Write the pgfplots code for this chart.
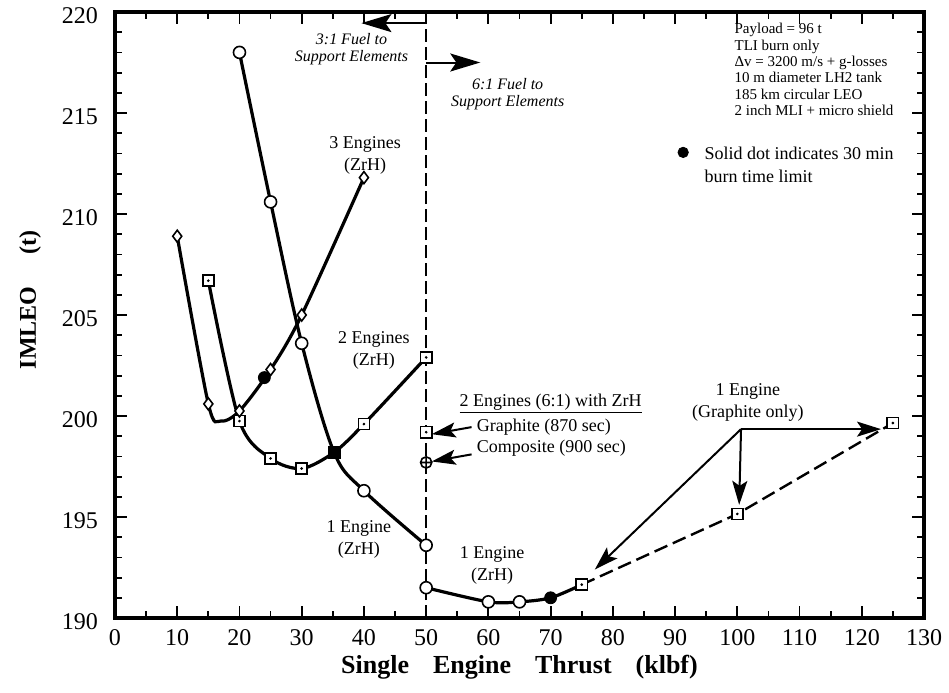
\documentclass[border=0pt]{standalone}
\usepackage{pgfplots}
\pgfplotsset{compat=1.18}
\usepackage{fontspec}
\setmainfont{Liberation Serif}
\usetikzlibrary{arrows.meta}
\tikzset{
  bigarrow/.style={black, line width=1pt, arrows={-Stealth[length=15pt, width=9pt, inset=3pt]}},
  medarrow/.style={black, line width=1pt, arrows={-Stealth[length=12pt, width=7.5pt, inset=2.5pt]}},
}

\begin{document}
\begin{tikzpicture}
\useasboundingbox (-57.5pt,-37pt) rectangle (417pt,309pt);
\begin{axis}[
  at={(0,0)}, anchor=south west,
  scale only axis, width=404.5pt, height=303pt,
  xmin=0, xmax=130, ymin=190, ymax=220,
  xtick={0,10,...,130}, ytick={190,195,...,220},
  minor x tick num=1, minor y tick num=4,
  tick align=inside, major tick length=6pt, minor tick length=3.5pt,
  every tick/.style={black, line width=0.9pt},
  axis line style={line width=1.6pt},
  ticklabel style={font=\fontsize{12}{14}\selectfont},
  /pgf/number format/assume math mode=true,
  xticklabel style={yshift=-2pt},
  yticklabel style={xshift=-5pt, yshift=-2pt},
  xlabel={Single\hspace{12pt}Engine\hspace{12pt}Thrust\hspace{12pt}(klbf)},
  xlabel style={font=\fontsize{13}{15}\selectfont\bfseries, at={(axis description cs:0.5,-0.081)}, anchor=center},
  ylabel={IMLEO\hspace{16pt}(t)},
  ylabel style={font=\fontsize{12}{14}\selectfont\bfseries, at={(axis description cs:-0.105,0.525)}, anchor=center},
  clip=false,
]
% dashed boundary 3:1 / 6:1
\addplot[black, line width=0.85pt, dash pattern=on 6.5pt off 2.5pt] coordinates {(50,190) (50,219.45)};

% 1 Engine (ZrH), 3:1
\addplot[black, line width=1.6pt, smooth, tension=0.55] coordinates {(20,218.0) (25,210.6) (30,203.6) (35.2,198.2) (40,196.3) (50,193.6)};
% 2 Engines (ZrH)
\addplot[black, line width=1.6pt, smooth, tension=0.5] coordinates {(15,206.7) (20,199.75) (25,197.9) (30,197.4) (35.2,198.2) (40,199.6) (50,202.9)};
% 3 Engines (ZrH)
\addplot[black, line width=1.6pt, smooth, tension=0.5] coordinates {(10,208.9) (15,200.6) (17,199.75) (20,200.25) (25,202.3) (30,205.0) (40,211.8)};
% 1 Engine (ZrH), 6:1
\addplot[black, line width=1.6pt, smooth, tension=0.5] coordinates {(50,191.5) (60,190.8) (65,190.8) (70,191.0) (75,191.65)};
% 1 Engine graphite only (dashed)
\addplot[black, line width=1.2pt, dash pattern=on 7pt off 3pt] coordinates {(75,191.65) (100,195.15) (125,199.65)};

% circle marks
\addplot[only marks, mark=*, mark size=3pt, mark options={fill=white, draw=black, line width=0.8pt}] coordinates {(20,218.0) (25,210.6) (30,203.6) (40,196.3) (50,193.6) (50,191.5) (60,190.8) (65,190.8)};
% square marks
\addplot[only marks, mark=square*, mark size=2.8pt, mark options={fill=white, draw=black, line width=0.8pt}] coordinates {(15,206.7) (20,199.75) (25,197.9) (30,197.4) (40,199.6) (50,202.9) (50,199.2) (75,191.65) (100,195.15) (125,199.65)};
\addplot[only marks, mark=*, mark size=0.45pt, black] coordinates {(15,206.7) (20,199.75) (25,197.9) (30,197.4) (40,199.6) (50,202.9) (50,199.2) (75,191.65) (100,195.15) (125,199.65)};
% diamond marks
\addplot[only marks, mark=diamond*, mark size=3pt, mark options={fill=white, draw=black, line width=0.8pt}] coordinates {(10,208.9) (15,200.6) (20,200.25) (25,202.3) (30,205.0) (40,211.8)};
% composite
\addplot[only marks, mark=oplus*, mark size=2.8pt, mark options={fill=white, draw=black, line width=0.8pt}] coordinates {(50,197.7)};
% solid = 30 min burn limit
\addplot[only marks, mark=*, mark size=3pt, black] coordinates {(24,201.9) (70,191.0)};
\addplot[only marks, mark=square*, mark size=3pt, black] coordinates {(35.2,198.2)};
% legend dot
\addplot[only marks, mark=*, mark size=2.6pt, black] coordinates {(91.3,213.05)};

% arrows
\draw[bigarrow] (axis cs:50,219.45) -- (axis cs:39.6,219.45);
\draw[bigarrow] (axis cs:50,217.5) -- (axis cs:58.7,217.5);
\draw[medarrow] (axis cs:57.3,199.45) -- (axis cs:50.9,199.1);
\draw[medarrow] (axis cs:57.3,198.1) -- (axis cs:50.9,197.75);
\draw[medarrow] (axis cs:100.6,199.35) -- (axis cs:123.1,199.35);
\draw[medarrow] (axis cs:100.6,199.35) -- (axis cs:100.3,195.6);
\draw[medarrow] (axis cs:100.6,199.35) -- (axis cs:77.1,192.4);

% text
\node[align=center, font=\fontsize{8}{8.6}\selectfont\itshape] at (axis cs:38,218.15) {3:1 Fuel to\\Support Elements};
\node[align=center, font=\fontsize{8}{8.6}\selectfont\itshape] at (axis cs:63.1,215.95) {6:1 Fuel to\\Support Elements};
\node[align=center, font=\fontsize{9}{11}\selectfont] at (axis cs:40.2,212.9) {3 Engines\\(ZrH)};
\node[align=center, font=\fontsize{9}{11}\selectfont] at (axis cs:41.6,203.25) {2 Engines\\(ZrH)};
\node[align=center, font=\fontsize{9}{11}\selectfont] at (axis cs:39.2,193.9) {1 Engine\\(ZrH)};
\node[align=center, font=\fontsize{9}{11}\selectfont] at (axis cs:60.6,192.6) {1 Engine\\(ZrH)};
\node[anchor=west, inner sep=0pt, font=\fontsize{9}{11}\selectfont] at (axis cs:55.3,200.6) {\underline{2 Engines (6:1) with ZrH}};
\node[anchor=west, inner sep=0pt, font=\fontsize{9}{11}\selectfont] at (axis cs:58.1,199.45) {Graphite (870 sec)};
\node[anchor=west, inner sep=0pt, font=\fontsize{9}{11}\selectfont] at (axis cs:58.1,198.4) {Composite (900 sec)};
\node[align=center, font=\fontsize{9}{11}\selectfont] at (axis cs:101.7,200.65) {1 Engine\\(Graphite only)};
\node[anchor=west, inner sep=0pt, align=left, font=\fontsize{7.5}{8.2}\selectfont] at (axis cs:99.5,217.15) {Payload = 96 t\\TLI burn only\\Δv = 3200 m/s + g-losses\\10 m diameter LH2 tank\\185 km circular LEO\\2 inch MLI + micro shield};
\node[anchor=west, inner sep=0pt, align=left, font=\fontsize{9}{11.5}\selectfont] at (axis cs:94.7,212.45) {Solid dot indicates 30 min\\burn time limit};
\end{axis}
\end{tikzpicture}
\end{document}
